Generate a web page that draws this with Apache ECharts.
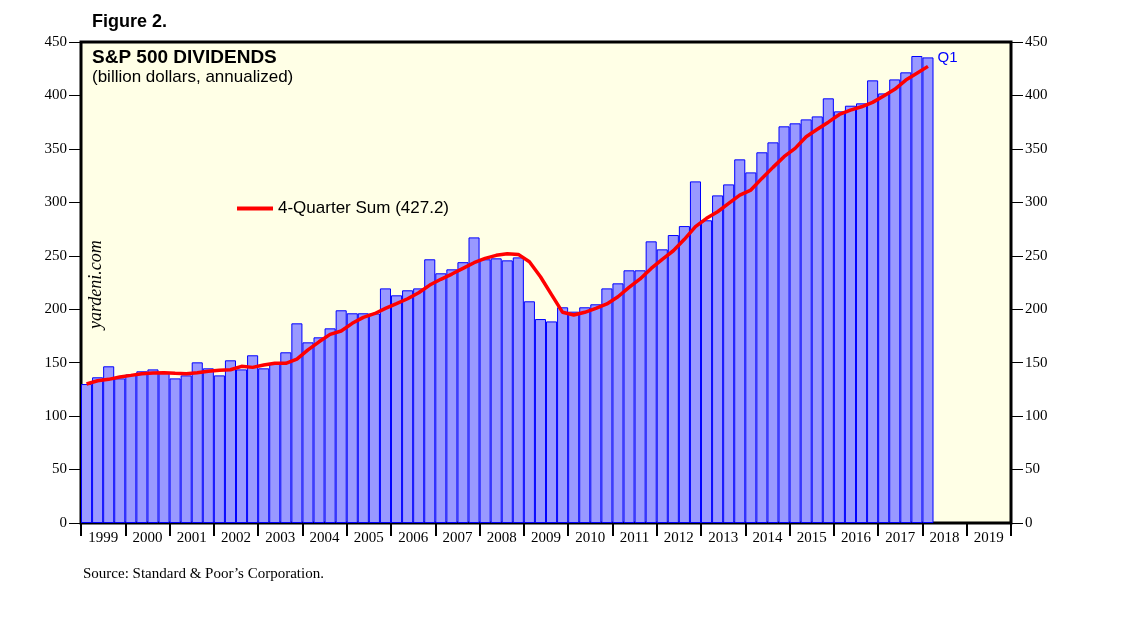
<!DOCTYPE html>
<html>
<head>
<meta charset="utf-8">
<script src="https://cdn.jsdelivr.net/npm/echarts@6/dist/echarts.min.js"></script>
<style>html,body{margin:0;padding:0;background:#fff}#c{width:1138px;height:621px}</style>
</head>
<body>
<div id="c"></div>
<script>
var years = ['1999','2000','2001','2002','2003','2004','2005','2006','2007','2008','2009','2010','2011','2012','2013','2014','2015','2016','2017','2018','2019'];
var quarterNames = ['Q1','Q2','Q3','Q4'];
var yTicks = [0,50,100,150,200,250,300,350,400,450];

// S&P 500 quarterly dividends, annualized (billion $), 1999Q1 - 2018Q1
var dividends = [
  130, 136.3, 146.6, 135.3,
  139, 141.9, 143.7, 140.6,
  135.3, 138.1, 150.3, 144.7,
  138.1, 152.2, 143.7, 156.9,
  144.7, 149.4, 159.7, 186.8,
  169, 173.7, 182.1, 199,
  196.2, 196.2, 196, 219.5,
  213, 217.7, 219.5, 246.7,
  233.6, 237.3, 244, 267.2,
  246.7, 247.6, 245.7, 248.5,
  207.4, 190.8, 188.6, 201.8,
  197.7, 201.8, 204.6, 219.5,
  224.2, 236.4, 236.4, 263.5,
  256, 269.4, 277.8, 319.6,
  283.2, 306.5, 316.8, 340.2,
  328, 346.8, 356.1, 371.1,
  373.9, 377.6, 380.4, 397.3,
  385.1, 390.4, 392.6, 414.1,
  401.9, 415, 421.6, 436.9,
  435.6
];
// 4-quarter sum
var fourQuarterSum = [
  130, 133.1, 134.4, 136.6,
  138.1, 139.7, 140.3, 140.6,
  140, 139.7, 140.6, 141.9,
  142.8, 143.4, 146.6, 145.6,
  147.8, 149.4, 149.4, 153.4,
  162, 169.5, 176.5, 179.6,
  186.8, 192.4, 195.8, 200.8,
  205.2, 209.8, 215.4, 222.6,
  228, 232.9, 238.2, 243.5,
  247.6, 250.4, 251.9, 251.3,
  244.4, 230.4, 213.6, 197.1,
  194.6, 197.1, 200.8, 204.9,
  211.7, 220.5, 228.3, 238.2,
  246.7, 254.7, 265.4, 277.2,
  285, 291.2, 299, 306.8,
  311.5, 322.4, 332.7, 342.7,
  350.5, 361.4, 368.3, 375,
  382.2, 386.3, 389.4, 393.5,
  399.4, 405.7, 414.4, 420.7,
  427.2
];

var quarters = [];
years.forEach(function (y) { quarterNames.forEach(function (q) { quarters.push(y + q); }); });

var barData = dividends.map(function (v, i) {
  if (i === dividends.length - 1) {
    return { value: v, label: { show: true, formatter: 'Q1', position: ['100%', 0], offset: [4, -7], color: '#0000ff', fontSize: 15, fontFamily: 'Liberation Sans' } };
  }
  return v;
});

var serif = 'Liberation Serif';
var sans = 'Liberation Sans';

var chart = echarts.init(document.getElementById('c'));
chart.setOption({
  animation: false,
  backgroundColor: '#ffffff',
  grid: { left: 81, right: 127, top: 42, bottom: 98, show: true, backgroundColor: '#ffffe6', borderColor: '#000', borderWidth: 3 },
  title: [
    { text: 'Figure 2.', left: 92, top: 13, padding: 0, textStyle: { fontFamily: sans, fontWeight: 'bold', fontSize: 18, color: '#000' } },
    { text: 'S&P 500 DIVIDENDS', left: 92, top: 48, padding: 0, textStyle: { fontFamily: sans, fontWeight: 'bold', fontSize: 19, color: '#000' } },
    { text: '(billion dollars, annualized)', left: 92, top: 69, padding: 0, textStyle: { fontFamily: sans, fontWeight: 'normal', fontSize: 17, color: '#000' } },
    { text: 'Source: Standard & Poor\u2019s Corporation.', left: 83, top: 567, padding: 0, textStyle: { fontFamily: serif, fontWeight: 'normal', fontSize: 15, color: '#000' } }
  ],
  legend: {
    left: 232, top: 195, itemWidth: 36, itemHeight: 4, itemGap: 8,
    data: [{ name: '4-Quarter Sum (427.2)', icon: 'rect' }],
    textStyle: { fontFamily: sans, fontSize: 17, color: '#000' }
  },
  graphic: [
    { type: 'text', x: 105, y: 329, rotation: Math.PI / 2, style: { text: 'yardeni.com', font: 'italic 18px "Liberation Serif"', fill: '#000', textAlign: 'left', textVerticalAlign: 'bottom' } }
  ],
  xAxis: [
    { type: 'category', data: quarters, boundaryGap: true, axisLine: { show: false }, axisTick: { show: false }, axisLabel: { show: false } },
    { type: 'category', data: years, boundaryGap: true, position: 'bottom',
      axisLine: { show: false },
      axisTick: { show: true, length: 13, interval: 0, lineStyle: { color: '#000', width: 2 } },
      axisLabel: { interval: 0, margin: 8, fontFamily: serif, fontSize: 15, color: '#000' } }
  ],
  yAxis: [
    { type: 'value', min: 0, max: 450, interval: 50, position: 'left',
      axisLine: { show: false }, splitLine: { show: false },
      axisTick: { show: true, length: 12, lineStyle: { color: '#000', width: 1 } },
      axisLabel: { margin: 14, fontFamily: serif, fontSize: 15, color: '#000' } },
    { type: 'value', min: 0, max: 450, interval: 50, position: 'right',
      axisLine: { show: false }, splitLine: { show: false },
      axisTick: { show: true, length: 12, lineStyle: { color: '#000', width: 1 } },
      axisLabel: { margin: 14, fontFamily: serif, fontSize: 15, color: '#000' } }
  ],
  series: [
    { name: 'Dividends', type: 'bar', xAxisIndex: 0, yAxisIndex: 0, data: barData, barCategoryGap: '0%',
      itemStyle: { color: '#9999ff', borderColor: '#0000ff', borderWidth: 1 } },
    { name: '4-Quarter Sum (427.2)', type: 'line', xAxisIndex: 0, yAxisIndex: 0, data: fourQuarterSum,
      showSymbol: false, symbol: 'none', lineStyle: { color: '#ff0000', width: 3.5 }, itemStyle: { color: '#ff0000' } }
  ]
});
</script>
</body>
</html>
